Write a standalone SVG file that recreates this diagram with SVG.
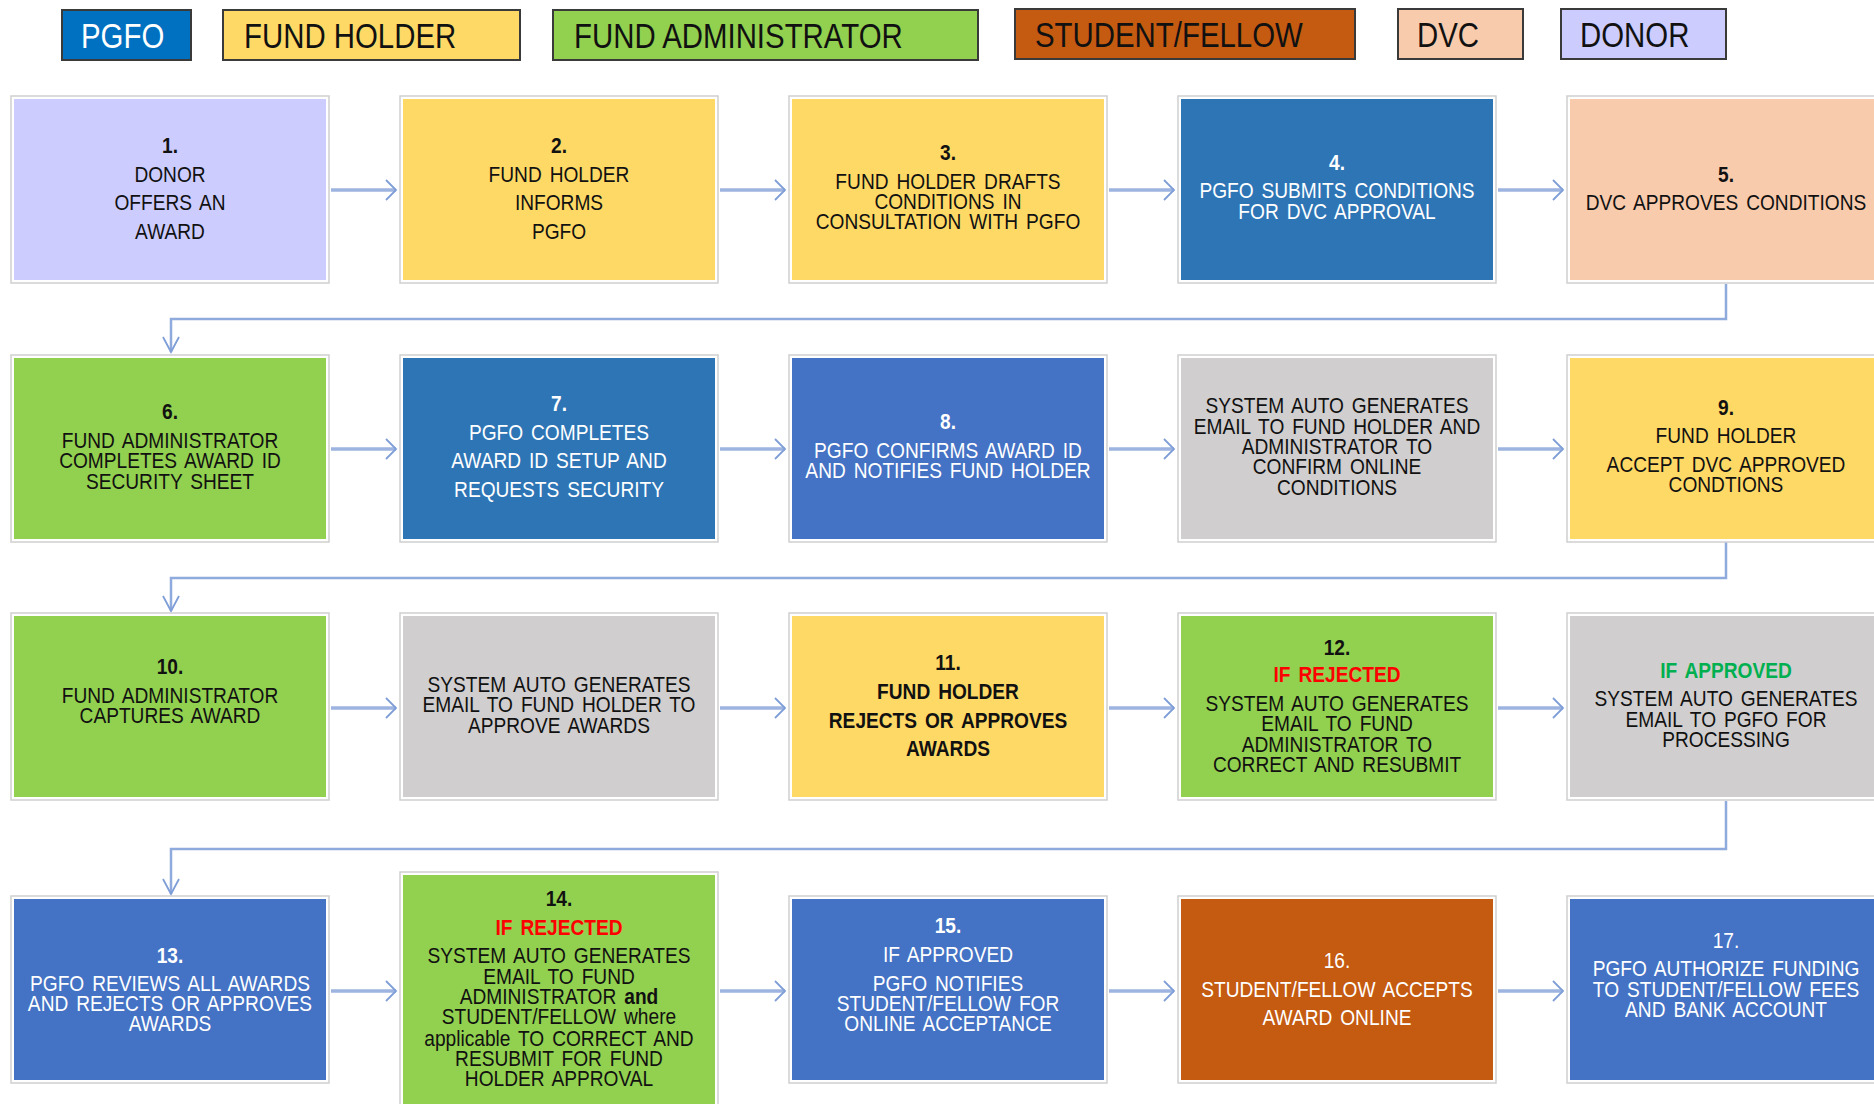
<svg xmlns="http://www.w3.org/2000/svg" width="1874" height="1104" viewBox="0 0 1874 1104">
<style>
text{font-family:"Liberation Sans",Arial,sans-serif;font-size:22px;text-anchor:middle;fill:#111;word-spacing:3px;transform-box:fill-box;transform-origin:50% 50%;transform:scaleX(0.87)}
.lg text{font-size:35px;text-anchor:start;word-spacing:0;transform-origin:0 50%;transform:scaleX(0.84)}
.lgb{stroke:#3a3a3a;stroke-width:2}
.o{fill:#fff;stroke:#cfcfcf;stroke-width:1.5}
.w text{fill:#fff}
.b{font-weight:bold}
.red{fill:#FF0000;font-weight:bold}
.grn{fill:#00B050;font-weight:bold}
.c{fill:none;stroke:#8FAADC;stroke-width:2.5}
.h{fill:none;stroke:#9DB4E0;stroke-width:3.5}
.hd{fill:none;stroke:#7F9ED8;stroke-width:1.8}
</style>
<rect width="1874" height="1104" fill="#fff"/>
<g id="legend" class="lg">
<g id="lg-pgfo"><rect class="lgb" x="62" y="10" width="129" height="50" fill="#0070C0"/><text x="81" y="48" style="fill:#fff">PGFO</text></g>
<g id="lg-fundholder"><rect class="lgb" x="223" y="10" width="297" height="50" fill="#FFD966"/><text x="244" y="48">FUND HOLDER</text></g>
<g id="lg-fundadmin"><rect class="lgb" x="553" y="10" width="425" height="50" fill="#92D050"/><text x="574" y="48">FUND ADMINISTRATOR</text></g>
<g id="lg-student"><rect class="lgb" x="1015" y="9" width="340" height="50" fill="#C55A11"/><text x="1035" y="47">STUDENT/FELLOW</text></g>
<g id="lg-dvc"><rect class="lgb" x="1398" y="9" width="125" height="50" fill="#F8CBAD"/><text x="1417" y="47">DVC</text></g>
<g id="lg-donor"><rect class="lgb" x="1561" y="9" width="165" height="50" fill="#CCCCFF"/><text x="1580" y="47">DONOR</text></g>
</g>
<g id="connectors">
<path class="h" d="M331 190H396M720 190H785M1109 190H1174M1498 190H1563"/>
<path class="hd" d="M386 180L396 190L386 200M775 180L785 190L775 200M1164 180L1174 190L1164 200M1553 180L1563 190L1553 200"/>
<path class="h" d="M331 449H396M720 449H785M1109 449H1174M1498 449H1563"/>
<path class="hd" d="M386 439L396 449L386 459M775 439L785 449L775 459M1164 439L1174 449L1164 459M1553 439L1563 449L1553 459"/>
<path class="h" d="M331 708H396M720 708H785M1109 708H1174M1498 708H1563"/>
<path class="hd" d="M386 698L396 708L386 718M775 698L785 708L775 718M1164 698L1174 708L1164 718M1553 698L1563 708L1553 718"/>
<path class="h" d="M331 991H396M720 991H785M1109 991H1174M1498 991H1563"/>
<path class="hd" d="M386 981L396 991L386 1001M775 981L785 991L775 1001M1164 981L1174 991L1164 1001M1553 981L1563 991L1553 1001"/>
<path class="c" d="M1726 284V319H171V352"/>
<path class="c" d="M1726 542V578H171V611"/>
<path class="c" d="M1726 801V849H171V894"/>
<path class="hd" d="M163 337L171 352L179 337M163 596L171 611L179 596M163 879L171 894L179 879"/>
</g>
<g id="n1"><rect class="o" x="11" y="96" width="318" height="187"/><rect x="14" y="99" width="312" height="181" fill="#CCCCFF"/>
<text x="170" y="153" class="b">1.</text><text x="170" y="182">DONOR</text><text x="170" y="210">OFFERS AN</text><text x="170" y="239">AWARD</text></g>
<g id="n2"><rect class="o" x="400" y="96" width="318" height="187"/><rect x="403" y="99" width="312" height="181" fill="#FFD966"/>
<text x="559" y="153" class="b">2.</text><text x="559" y="182">FUND HOLDER</text><text x="559" y="210">INFORMS</text><text x="559" y="239">PGFO</text></g>
<g id="n3"><rect class="o" x="789" y="96" width="318" height="187"/><rect x="792" y="99" width="312" height="181" fill="#FFD966"/>
<text x="948" y="160" class="b">3.</text><text x="948" y="189">FUND HOLDER DRAFTS</text><text x="948" y="209">CONDITIONS IN</text><text x="948" y="229">CONSULTATION WITH PGFO</text></g>
<g id="n4" class="w"><rect class="o" x="1178" y="96" width="318" height="187"/><rect x="1181" y="99" width="312" height="181" fill="#2E75B6"/>
<text x="1337" y="170" class="b">4.</text><text x="1337" y="198">PGFO SUBMITS CONDITIONS</text><text x="1337" y="219">FOR DVC APPROVAL</text></g>
<g id="n5"><rect class="o" x="1567" y="96" width="318" height="187"/><rect x="1570" y="99" width="312" height="181" fill="#F8CBAD"/>
<text x="1726" y="182" class="b">5.</text><text x="1726" y="210">DVC APPROVES CONDITIONS</text></g>
<g id="n6"><rect class="o" x="11" y="355" width="318" height="187"/><rect x="14" y="358" width="312" height="181" fill="#92D050"/>
<text x="170" y="419" class="b">6.</text><text x="170" y="448">FUND ADMINISTRATOR</text><text x="170" y="468">COMPLETES AWARD ID</text><text x="170" y="489">SECURITY SHEET</text></g>
<g id="n7" class="w"><rect class="o" x="400" y="355" width="318" height="187"/><rect x="403" y="358" width="312" height="181" fill="#2E75B6"/>
<text x="559" y="411" class="b">7.</text><text x="559" y="440">PGFO COMPLETES</text><text x="559" y="468">AWARD ID SETUP AND</text><text x="559" y="497">REQUESTS SECURITY</text></g>
<g id="n8" class="w"><rect class="o" x="789" y="355" width="318" height="187"/><rect x="792" y="358" width="312" height="181" fill="#4472C4"/>
<text x="948" y="429" class="b">8.</text><text x="948" y="458">PGFO CONFIRMS AWARD ID</text><text x="948" y="478">AND NOTIFIES FUND HOLDER</text></g>
<g id="n8b"><rect class="o" x="1178" y="355" width="318" height="187"/><rect x="1181" y="358" width="312" height="181" fill="#D0CECE"/>
<text x="1337" y="413">SYSTEM AUTO GENERATES</text><text x="1337" y="434">EMAIL TO FUND HOLDER AND</text><text x="1337" y="454">ADMINISTRATOR TO</text><text x="1337" y="474">CONFIRM ONLINE</text><text x="1337" y="495">CONDITIONS</text></g>
<g id="n9"><rect class="o" x="1567" y="355" width="318" height="187"/><rect x="1570" y="358" width="312" height="181" fill="#FFD966"/>
<text x="1726" y="415" class="b">9.</text><text x="1726" y="443">FUND HOLDER</text><text x="1726" y="472">ACCEPT DVC APPROVED</text><text x="1726" y="492">CONDTIONS</text></g>
<g id="n10"><rect class="o" x="11" y="613" width="318" height="187"/><rect x="14" y="616" width="312" height="181" fill="#92D050"/>
<text x="170" y="674" class="b">10.</text><text x="170" y="703">FUND ADMINISTRATOR</text><text x="170" y="723">CAPTURES AWARD</text></g>
<g id="n10b"><rect class="o" x="400" y="613" width="318" height="187"/><rect x="403" y="616" width="312" height="181" fill="#D0CECE"/>
<text x="559" y="692">SYSTEM AUTO GENERATES</text><text x="559" y="712">EMAIL TO FUND HOLDER TO</text><text x="559" y="733">APPROVE AWARDS</text></g>
<g id="n11" class="b"><rect class="o" x="789" y="613" width="318" height="187"/><rect x="792" y="616" width="312" height="181" fill="#FFD966"/>
<text x="948" y="670">11.</text><text x="948" y="699">FUND HOLDER</text><text x="948" y="728">REJECTS OR APPROVES</text><text x="948" y="756">AWARDS</text></g>
<g id="n12"><rect class="o" x="1178" y="613" width="318" height="187"/><rect x="1181" y="616" width="312" height="181" fill="#92D050"/>
<text x="1337" y="655" class="b">12.</text><text x="1337" y="682" class="red">IF REJECTED</text><text x="1337" y="711">SYSTEM AUTO GENERATES</text><text x="1337" y="731">EMAIL TO FUND</text><text x="1337" y="752">ADMINISTRATOR TO</text><text x="1337" y="772">CORRECT AND RESUBMIT</text></g>
<g id="n12b"><rect class="o" x="1567" y="613" width="318" height="187"/><rect x="1570" y="616" width="312" height="181" fill="#D0CECE"/>
<text x="1726" y="678" class="grn">IF APPROVED</text><text x="1726" y="706">SYSTEM AUTO GENERATES</text><text x="1726" y="727">EMAIL TO PGFO FOR</text><text x="1726" y="747">PROCESSING</text></g>
<g id="n13" class="w"><rect class="o" x="11" y="896" width="318" height="187"/><rect x="14" y="899" width="312" height="181" fill="#4472C4"/>
<text x="170" y="963" class="b">13.</text><text x="170" y="991">PGFO REVIEWS ALL AWARDS</text><text x="170" y="1011">AND REJECTS OR APPROVES</text><text x="170" y="1031">AWARDS</text></g>
<g id="n14"><rect class="o" x="400" y="872" width="318" height="240"/><rect x="403" y="875" width="312" height="234" fill="#92D050"/>
<text x="559" y="906" class="b">14.</text><text x="559" y="935" class="red">IF REJECTED</text><text x="559" y="963">SYSTEM AUTO GENERATES</text><text x="559" y="984">EMAIL TO FUND</text><text x="559" y="1004">ADMINISTRATOR <tspan class="b">and</tspan></text><text x="559" y="1024">STUDENT/FELLOW where</text><text x="559" y="1046">applicable TO CORRECT AND</text><text x="559" y="1066">RESUBMIT FOR FUND</text><text x="559" y="1086">HOLDER APPROVAL</text></g>
<g id="n15" class="w"><rect class="o" x="789" y="896" width="318" height="187"/><rect x="792" y="899" width="312" height="181" fill="#4472C4"/>
<text x="948" y="933" class="b">15.</text><text x="948" y="962">IF APPROVED</text><text x="948" y="991">PGFO NOTIFIES</text><text x="948" y="1011">STUDENT/FELLOW FOR</text><text x="948" y="1031">ONLINE ACCEPTANCE</text></g>
<g id="n16" class="w"><rect class="o" x="1178" y="896" width="318" height="187"/><rect x="1181" y="899" width="312" height="181" fill="#C55A11"/>
<text x="1337" y="968">16.</text><text x="1337" y="997">STUDENT/FELLOW ACCEPTS</text><text x="1337" y="1025">AWARD ONLINE</text></g>
<g id="n17" class="w"><rect class="o" x="1567" y="896" width="318" height="187"/><rect x="1570" y="899" width="312" height="181" fill="#4472C4"/>
<text x="1726" y="948">17.</text><text x="1726" y="976">PGFO AUTHORIZE FUNDING</text><text x="1726" y="997">TO STUDENT/FELLOW FEES</text><text x="1726" y="1017">AND BANK ACCOUNT</text></g>
</svg>
